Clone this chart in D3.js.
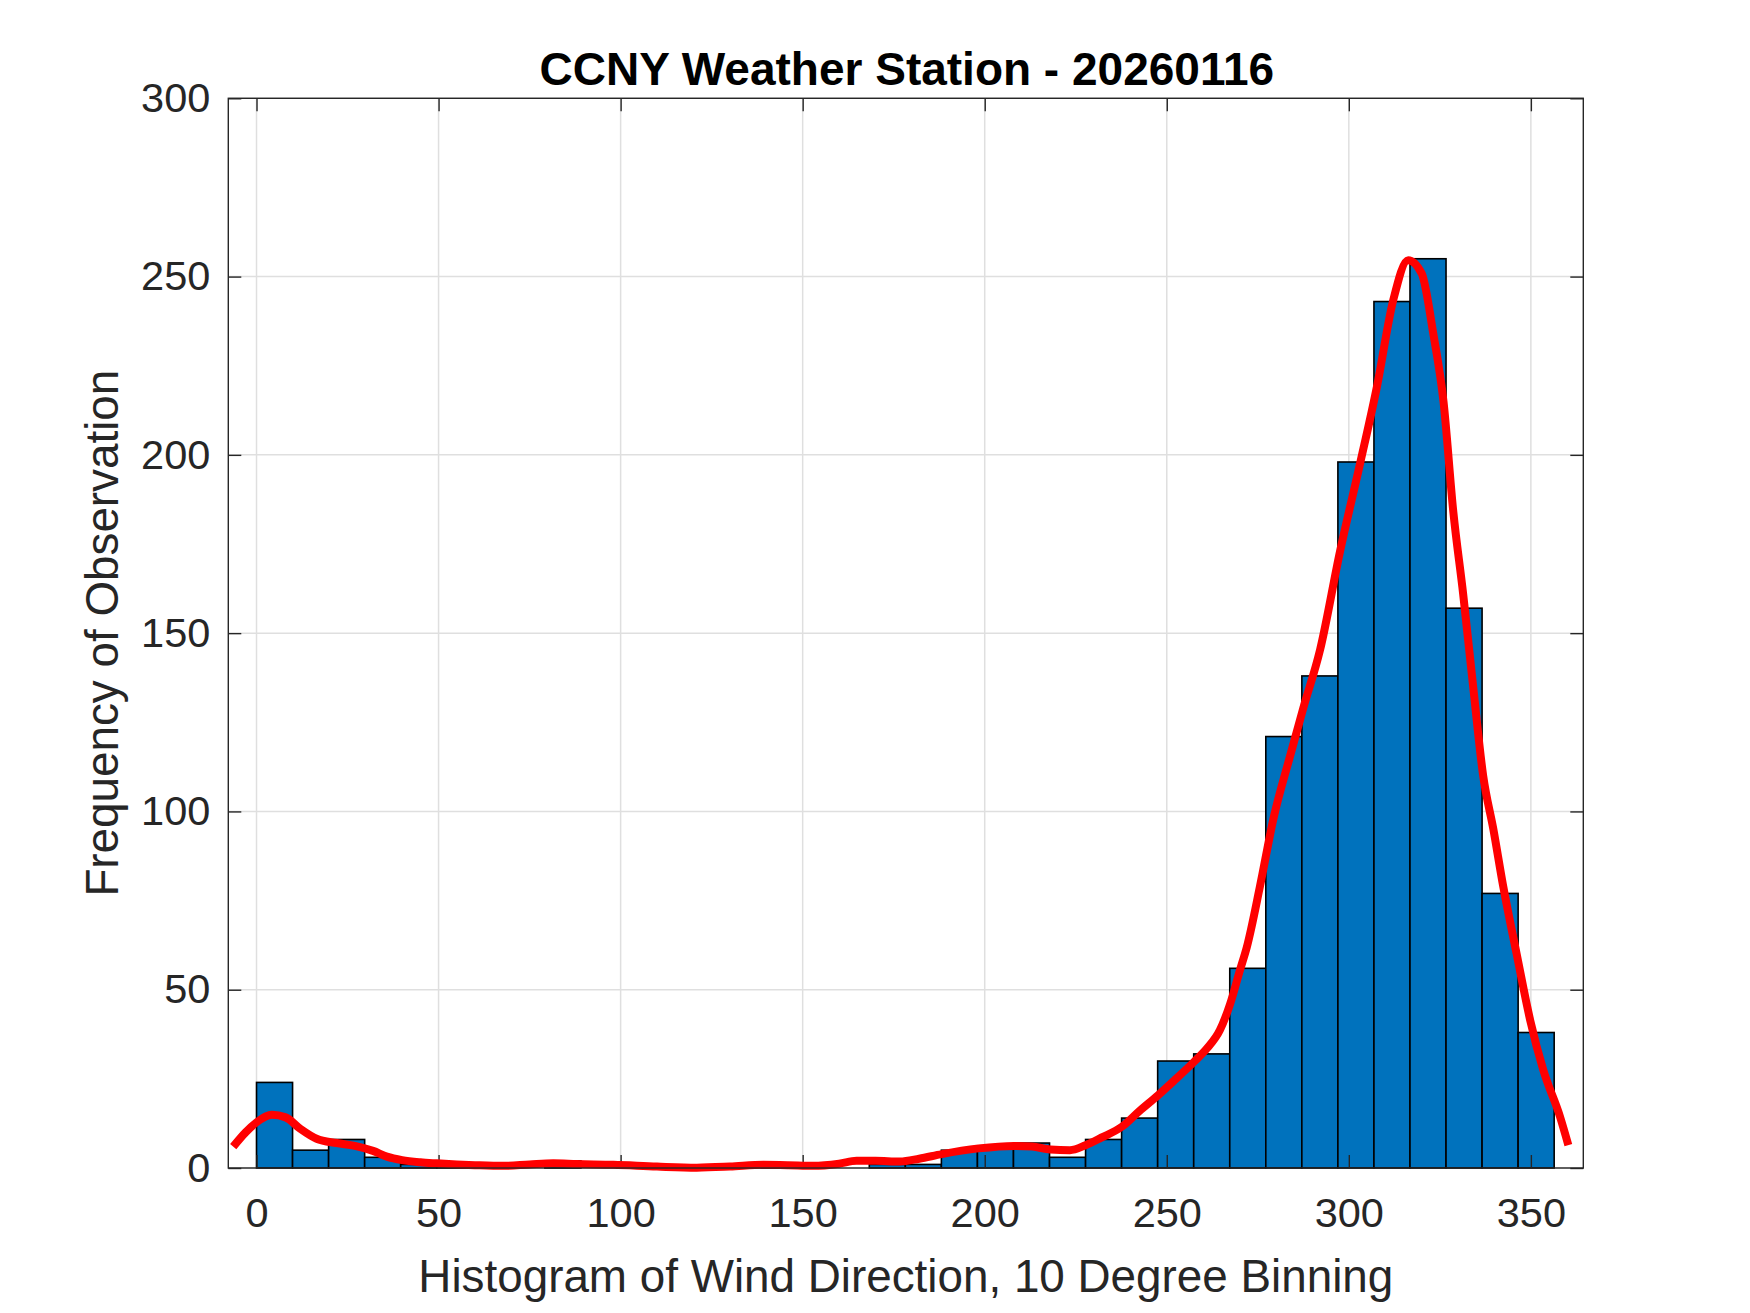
<!DOCTYPE html>
<html>
<head>
<meta charset="utf-8">
<script src="https://cdn.jsdelivr.net/npm/d3@7/dist/d3.min.js"></script>
<style>
  html, body { margin: 0; padding: 0; background: #ffffff; }
  svg { display: block; }
  text { font-family: "Liberation Sans", Arial, Helvetica, sans-serif; }
</style>
</head>
<body>
<svg id="chart" width="1750" height="1313"></svg>
<script>
// ---------- data ----------
const titleText = "CCNY Weather Station - 20260116";
const xLabelText = "Histogram of Wind Direction, 10 Degree Binning";
const yLabelText = "Frequency of Observation";

const binWidth = 9.9;
const binStarts = [0, 9.9, 19.8, 29.7, 39.6, 49.5, 59.4, 69.3, 79.2, 89.1,
  99, 108.9, 118.8, 128.7, 138.6, 148.5, 158.4, 168.3, 178.2, 188.1,
  198, 207.9, 217.8, 227.7, 237.6, 247.5, 257.4, 267.3, 277.2, 287.1,
  297, 306.9, 316.8, 326.7, 336.6, 346.5];
const binCounts = [24, 5, 8, 3, 1, 1, 0, 0, 2, 0,
  1, 0, 0, 0, 1, 0, 0, 1, 1, 5,
  6, 7, 3, 8, 14, 30, 32, 56, 121, 138,
  198, 243, 255, 157, 77, 38];

const fitX = [-6.4, -3, 0, 4.2, 8, 12, 16.5, 22, 27, 32, 35.8, 40, 45, 49.5, 55, 60, 67.8, 75, 81.5, 88,
  98, 110, 120.9, 130, 139.2, 146, 152.9, 160, 164.8, 170, 176.7, 182, 188.2, 198.3, 208.1, 213, 218,
  223.4, 227.7, 232, 237.7, 242.5, 247.7, 252, 257.5, 261, 264.6, 267.4, 270.1, 272, 275.6, 279.3,
  283.8, 287.5, 292.1, 297.6, 303.1, 307.7, 312.2, 316.3, 320, 323.2, 326, 328.7, 331.4, 334.2,
  336.9, 339.7, 342.4, 346.1, 349.8, 353.4, 358, 360.3];
const fitY = [6.0, 10, 12.8, 14.9, 14.2, 11, 8.2, 7, 6.2, 4.8, 3.2, 2.2, 1.6, 1.3, 1.0, 0.8, 0.6, 1.0, 1.3, 1.1,
  0.9, 0.4, 0.1, 0.4, 0.9, 0.8, 0.6, 1.2, 2.0, 2.0, 1.8, 2.6, 3.9, 5.5, 6.2, 6.0, 5.2,
  5.0, 6.4, 8.5, 11.6, 16, 20.5, 24.5, 29.8, 33.5, 38.7, 46, 55.5, 62, 79, 98,
  115.3, 129, 145.3, 173, 197.6, 219, 243.4, 254.6, 250.9, 234, 215, 184, 161, 134.5,
  110, 95, 79, 60, 41.5, 27.5, 14.4, 6.4];

const xTicks = [0, 50, 100, 150, 200, 250, 300, 350];
const yTicks = [0, 50, 100, 150, 200, 250, 300];
const xDomain = [-7.75, 364.4];
const yDomain = [0, 300];

// ---------- layout ----------
const L = 228.3, R = 1583.3, T = 98.3, B = 1168;
const axisColor = "#262626";
const svg = d3.select("#chart");

const x = d3.scaleLinear().domain(xDomain).range([L, R]);
const y = d3.scaleLinear().domain(yDomain).range([B, T]);

// grid
const grid = svg.append("g");
grid.selectAll("line.gx").data(xTicks).enter().append("line")
  .attr("x1", d => x(d)).attr("x2", d => x(d)).attr("y1", T).attr("y2", B)
  .attr("stroke", "#dfdfdf").attr("stroke-width", 1.5);
grid.selectAll("line.gy").data(yTicks).enter().append("line")
  .attr("x1", L).attr("x2", R).attr("y1", d => y(d)).attr("y2", d => y(d))
  .attr("stroke", "#dfdfdf").attr("stroke-width", 1.5);

// bars
const bins = binStarts.map((s, i) => ({ x0: s, x1: s + binWidth, c: binCounts[i] }));
svg.append("g").selectAll("rect").data(bins.filter(d => d.c > 0)).enter().append("rect")
  .attr("x", d => x(d.x0)).attr("width", d => x(d.x1) - x(d.x0))
  .attr("y", d => y(d.c)).attr("height", d => y(0) - y(d.c))
  .attr("fill", "#0072BD").attr("stroke", "#000000").attr("stroke-width", 1.6);

// axes with inward ticks (all four sides)
const tickLen = 13;
const ax = svg.append("g");
ax.append("g").attr("transform", `translate(0,${B})`)
  .call(d3.axisBottom(x).tickValues(xTicks).tickSizeInner(-tickLen).tickSizeOuter(0).tickPadding(30))
  .call(g => g.select(".domain").remove());
ax.append("g").attr("transform", `translate(0,${T})`)
  .call(d3.axisTop(x).tickValues(xTicks).tickSizeInner(-tickLen).tickSizeOuter(0).tickFormat(""))
  .call(g => g.select(".domain").remove());
ax.append("g").attr("transform", `translate(${L},0)`)
  .call(d3.axisLeft(y).tickValues(yTicks).tickSizeInner(-tickLen).tickSizeOuter(0).tickPadding(18))
  .call(g => g.select(".domain").remove());
ax.append("g").attr("transform", `translate(${R},0)`)
  .call(d3.axisRight(y).tickValues(yTicks).tickSizeInner(-tickLen).tickSizeOuter(0).tickFormat(""))
  .call(g => g.select(".domain").remove());
ax.selectAll(".tick line").attr("stroke", axisColor).attr("stroke-width", 1.4);
ax.selectAll(".tick text").attr("fill", axisColor)
  .style("font-size", "41.5px").style("font-family", "'Liberation Sans', Arial, sans-serif");

// fit curve
const pts = fitX.map((v, i) => [v, fitY[i]]);
svg.append("path").datum(pts)
  .attr("d", d3.line().x(d => x(d[0])).y(d => y(d[1])).curve(d3.curveMonotoneX))
  .attr("fill", "none").attr("stroke", "#FF0000").attr("stroke-width", 8)
  .attr("stroke-linejoin", "round").attr("stroke-linecap", "butt");

// box
svg.append("rect").attr("x", L).attr("y", T).attr("width", R - L).attr("height", B - T)
  .attr("fill", "none").attr("stroke", axisColor).attr("stroke-width", 1.4);

// title & labels
svg.append("text").attr("x", (L + R) / 2 + 1).attr("y", 85)
  .attr("text-anchor", "middle").attr("font-weight", "bold").attr("font-size", 46)
  .attr("fill", "#000000").text(titleText);
svg.append("text").attr("x", (L + R) / 2).attr("y", 1292)
  .attr("text-anchor", "middle").attr("font-size", 45.8).attr("fill", axisColor).text(xLabelText);
svg.append("text").attr("transform", `translate(118,${(T + B) / 2}) rotate(-90)`)
  .attr("text-anchor", "middle").attr("font-size", 45.8).attr("fill", axisColor).text(yLabelText);
</script>
</body>
</html>
